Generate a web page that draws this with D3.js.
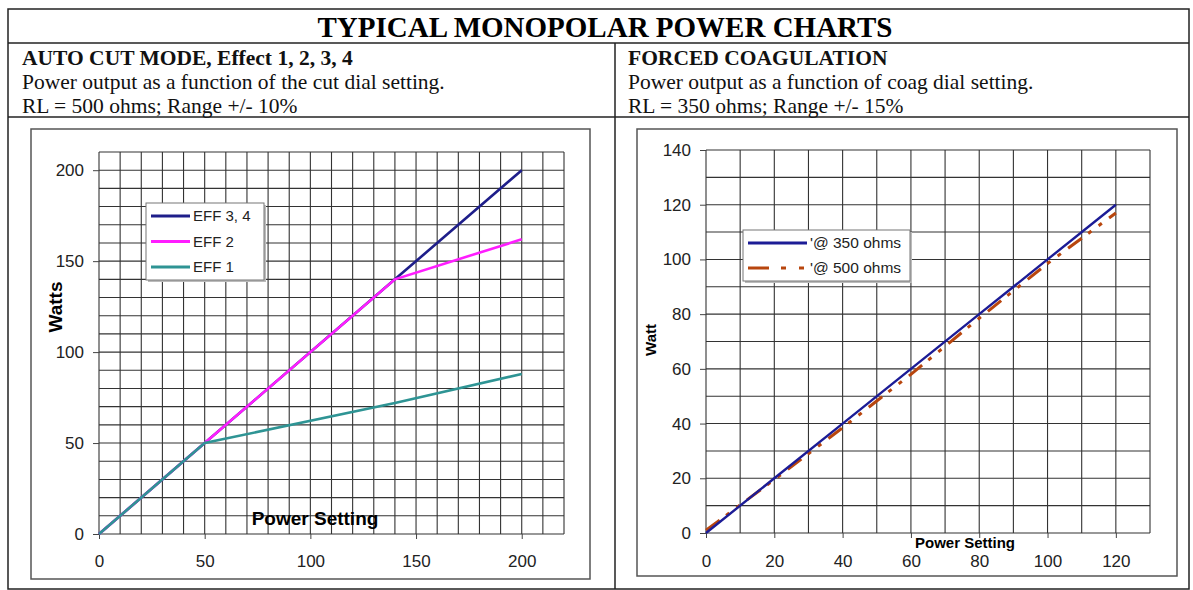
<!DOCTYPE html>
<html>
<head>
<meta charset="utf-8">
<script src="https://cdn.jsdelivr.net/npm/d3@7"></script>
<style>
  body { margin: 0; background: #fff; }
  svg { display: block; }
  .grid line { stroke: #333; stroke-width: 1.1; }
  .axis text { font-family: "Liberation Sans", Arial, sans-serif; fill: #222; }
  .axis path { display: none; }
  .axis line { stroke: #444; }
</style>
</head>
<body>
<div id="chart"></div>
<script>
// page text
var pageTitle = "TYPICAL MONOPOLAR POWER CHARTS";
var leftHead = ["AUTO CUT MODE, Effect 1, 2, 3, 4",
    "Power output as a function of the cut dial setting.",
    "RL = 500 ohms; Range +/- 10%"];
var rightHead = ["FORCED COAGULATION",
    "Power output as a function of coag dial setting.",
    "RL = 350 ohms; Range +/- 15%"];

// auto cut data
var cutSettings = [0, 50, 140, 200];
var eff34Watts = [0, 50, 140, 200];
var eff2Watts = [0, 50, 140, 162];
var eff1Watts = [0, 50, 72, 88];
var cutLabels = ["EFF 3, 4", "EFF 2", "EFF 1"];
var cutXTicks = [0, 50, 100, 150, 200];
var cutYTicks = [0, 50, 100, 150, 200];

// forced coag data
var coagSettings = [0, 20, 40, 60, 80, 100, 120];
var ohms350Watts = [0, 20, 40, 60, 80, 100, 120];
var ohms500Watts = [1, 19.5, 38.5, 58, 78.5, 98.5, 117];
var coagLabels = ["'@ 350 ohms", "'@ 500 ohms"];
var coagXTicks = [0, 20, 40, 60, 80, 100, 120];
var coagYTicks = [0, 20, 40, 60, 80, 100, 120, 140];

var W = 1193, H = 590;
var svg = d3.select("#chart").append("svg")
    .attr("width", W)
    .attr("height", H);

// page frame and table lines
var rule = svg.append("g").attr("stroke", "#222").attr("stroke-width", 1.5).attr("fill", "none");
rule.append("rect").attr("x", 8).attr("y", 9).attr("width", 1181).attr("height", 580);
rule.append("line").attr("x1", 8).attr("x2", 1189).attr("y1", 43).attr("y2", 43);
rule.append("line").attr("x1", 8).attr("x2", 1189).attr("y1", 117).attr("y2", 117);
rule.append("line").attr("x1", 615).attr("x2", 615).attr("y1", 43).attr("y2", 589);

svg.append("text")
    .attr("x", 605).attr("y", 37)
    .attr("text-anchor", "middle")
    .style("font-family", "'Liberation Serif', 'Times New Roman', serif")
    .style("font-weight", "bold")
    .style("font-size", "29px")
    .text(pageTitle);

function header(lines, x) {
    lines.forEach(function(t, i) {
        svg.append("text")
            .attr("x", x).attr("y", 65 + i * 24)
            .style("font-family", "'Liberation Serif', 'Times New Roman', serif")
            .style("font-weight", i === 0 ? "bold" : "normal")
            .style("font-size", "21.5px")
            .style("fill", "#111")
            .text(t);
    });
}
header(leftHead, 22);
header(rightHead, 628);

// chart frames
svg.append("rect").attr("x", 31).attr("y", 129).attr("width", 559).attr("height", 450)
    .attr("fill", "none").attr("stroke", "#555").attr("stroke-width", 1.5);
svg.append("rect").attr("x", 637).attr("y", 129).attr("width", 540).attr("height", 447)
    .attr("fill", "none").attr("stroke", "#555").attr("stroke-width", 1.5);

function drawGrid(g, x, y, xStep, yStep) {
    var xd = x.domain(), yd = y.domain();
    var gg = g.append("g").attr("class", "grid");
    gg.selectAll(".v").data(d3.range(xd[0], xd[1] + 0.01, xStep)).enter().append("line")
        .attr("x1", function(d) { return x(d); }).attr("x2", function(d) { return x(d); })
        .attr("y1", y(yd[0])).attr("y2", y(yd[1]));
    gg.selectAll(".h").data(d3.range(yd[0], yd[1] + 0.01, yStep)).enter().append("line")
        .attr("y1", function(d) { return y(d); }).attr("y2", function(d) { return y(d); })
        .attr("x1", x(xd[0])).attr("x2", x(xd[1]));
}

function legend(g, x0, y0, w, h, items, lineW, fs) {
    var lg = g.append("g");
    lg.append("rect").attr("x", x0 + 2).attr("y", y0 + 2).attr("width", w).attr("height", h)
        .attr("fill", "#bbb");
    lg.append("rect").attr("x", x0).attr("y", y0).attr("width", w).attr("height", h)
        .attr("fill", "#fff").attr("stroke", "#777").attr("stroke-width", 1);
    items.forEach(function(it, i) {
        var yy = y0 + 13 + i * it.step;
        lg.append("line")
            .attr("x1", x0 + 5).attr("x2", x0 + 5 + lineW)
            .attr("y1", yy).attr("y2", yy)
            .attr("stroke", it.color).attr("stroke-width", 3)
            .attr("stroke-dasharray", it.dash || null);
        lg.append("text")
            .attr("x", x0 + 8 + lineW).attr("y", yy + 5)
            .style("font-family", "'Liberation Sans', Arial, sans-serif")
            .style("font-size", fs + "px")
            .style("fill", "#222")
            .text(it.label);
    });
}

// ---- left chart: auto cut
var gL = svg.append("g");
var xL = d3.scaleLinear().domain([0, 220]).range([99, 564]);
var yL = d3.scaleLinear().domain([0, 210]).range([534, 152]);
drawGrid(gL, xL, yL, 10, 10);

gL.append("g").attr("class", "axis")
    .attr("transform", "translate(0," + yL(0) + ")")
    .call(d3.axisBottom(xL).tickValues(cutXTicks).tickSize(5).tickPadding(16))
    .selectAll("text").style("font-size", "17px");
gL.append("g").attr("class", "axis")
    .attr("transform", "translate(" + xL(0) + ",0)")
    .call(d3.axisLeft(yL).tickValues(cutYTicks).tickSize(6).tickPadding(9))
    .selectAll("text").style("font-size", "17px");

var cutSeries = [
    {label: cutLabels[0], color: "#1e1e8a", values: eff34Watts},
    {label: cutLabels[1], color: "#ff1dff", values: eff2Watts},
    {label: cutLabels[2], color: "#2e9494", values: eff1Watts}
];
var lineL = d3.line()
    .x(function(d) { return xL(d[0]); })
    .y(function(d) { return yL(d[1]); });
cutSeries.forEach(function(s) {
    gL.append("path")
        .datum(d3.zip(cutSettings, s.values))
        .attr("fill", "none")
        .attr("stroke", s.color)
        .attr("stroke-width", 2.6)
        .attr("d", lineL);
});

gL.append("text")
    .attr("transform", "translate(62,307) rotate(-90)")
    .attr("text-anchor", "middle")
    .style("font-family", "'Liberation Sans', Arial, sans-serif")
    .style("font-weight", "bold").style("font-size", "19px")
    .text("Watts");
gL.append("text")
    .attr("x", 315).attr("y", 525)
    .attr("text-anchor", "middle")
    .style("font-family", "'Liberation Sans', Arial, sans-serif")
    .style("font-weight", "bold").style("font-size", "19px")
    .text("Power Setting");

legend(gL, 146, 203, 118, 77, cutSeries.map(function(s) {
    return {label: s.label, color: s.color, step: 25.5};
}), 39, 15);

// ---- right chart: forced coag
var gR = svg.append("g");
var xR = d3.scaleLinear().domain([0, 130]).range([706, 1150]);
var yR = d3.scaleLinear().domain([0, 140]).range([533, 150]);
drawGrid(gR, xR, yR, 10, 10);

gR.append("g").attr("class", "axis")
    .attr("transform", "translate(0," + yR(0) + ")")
    .call(d3.axisBottom(xR).tickValues(coagXTicks).tickSize(5).tickPadding(17))
    .selectAll("text").style("font-size", "17px");
gR.append("g").attr("class", "axis")
    .attr("transform", "translate(" + xR(0) + ",0)")
    .call(d3.axisLeft(yR).tickValues(coagYTicks).tickSize(6).tickPadding(9))
    .selectAll("text").style("font-size", "17px");

var coagSeries = [
    {label: coagLabels[0], color: "#1c1c96", values: ohms350Watts, dash: null},
    {label: coagLabels[1], color: "#b8460e", values: ohms500Watts, dash: "17,8,4,9,4,9"}
];
var lineR = d3.line()
    .x(function(d) { return xR(d[0]); })
    .y(function(d) { return yR(d[1]); });
coagSeries.slice().reverse().forEach(function(s) {
    gR.append("path")
        .datum(d3.zip(coagSettings, s.values))
        .attr("fill", "none")
        .attr("stroke", s.color)
        .attr("stroke-width", s.dash ? 3 : 2.4)
        .attr("stroke-dasharray", s.dash)
        .attr("d", lineR);
});

gR.append("text")
    .attr("transform", "translate(656,340) rotate(-90)")
    .attr("text-anchor", "middle")
    .style("font-family", "'Liberation Sans', Arial, sans-serif")
    .style("font-weight", "bold").style("font-size", "15px")
    .text("Watt");
gR.append("text")
    .attr("x", 965).attr("y", 548)
    .attr("text-anchor", "middle")
    .style("font-family", "'Liberation Sans', Arial, sans-serif")
    .style("font-weight", "bold").style("font-size", "15px")
    .text("Power Setting");

legend(gR, 743, 230, 167, 51, coagSeries.map(function(s) {
    return {label: s.label, color: s.color, dash: s.dash ? "21,12,5,13,5,13" : null, step: 25};
}), 59, 15.5);
</script>
</body>
</html>
